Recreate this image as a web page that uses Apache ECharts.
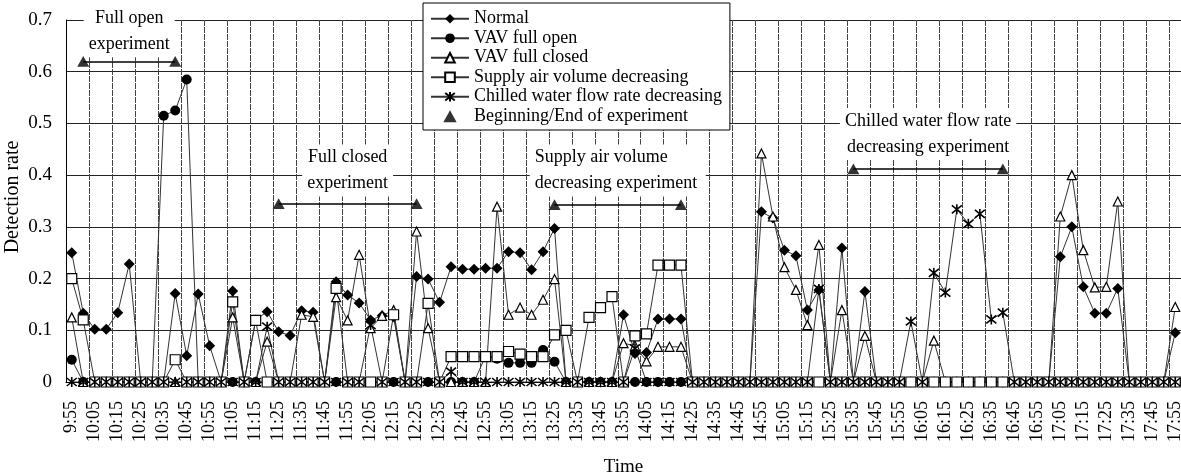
<!DOCTYPE html>
<html>
<head>
<meta charset="utf-8">
<script src="https://cdn.jsdelivr.net/npm/echarts@6/dist/echarts.min.js"></script>
<style>
html,body{margin:0;padding:0;background:#fff;}
#chart{width:1181px;height:475px;}
</style>
</head>
<body>
<div id="chart"></div>
<script>
// ---- data ----
const times = [
 '9:55','10:00','10:05','10:10','10:15','10:20','10:25','10:30','10:35','10:40',
 '10:45','10:50','10:55','11:00','11:05','11:10','11:15','11:20','11:25','11:30',
 '11:35','11:40','11:45','11:50','11:55','12:00','12:05','12:10','12:15','12:20',
 '12:25','12:30','12:35','12:40','12:45','12:50','12:55','13:00','13:05','13:10',
 '13:15','13:20','13:25','13:30','13:35','13:40','13:45','13:50','13:55','14:00',
 '14:05','14:10','14:15','14:20','14:25','14:30','14:35','14:40','14:45','14:50',
 '14:55','15:00','15:05','15:10','15:15','15:20','15:25','15:30','15:35','15:40',
 '15:45','15:50','15:55','16:00','16:05','16:10','16:15','16:20','16:25','16:30',
 '16:35','16:40','16:45','16:50','16:55','17:00','17:05','17:10','17:15','17:20',
 '17:25','17:30','17:35','17:40','17:45','17:50','17:55'
];
const normal = [
 0.25,0.133,0.102,0.102,0.134,0.228,0,0,0,0.171,
 0.051,0.17,0.07,0,0.176,0,0.12,0.136,0.097,0.09,
 0.138,0.135,0,0.194,0.168,0.153,0.12,0.128,0.126,0,
 0.204,0.199,0.154,0.223,0.218,0.218,0.22,0.22,0.252,0.25,
 0.217,0.252,0.297,0,0,0,0,0,0.13,0.055,
 0.057,0.122,0.122,0.122,0,0,0,0,0,0,
 0.329,0.317,0.255,0.244,0.139,0.178,0,0.259,0,0.175,
 0,0,0,0,0,0,0,0,0,0,
 0,0,0,0,0,0,0.242,0.30,0.184,0.133,
 0.133,0.181,0,0,0,0,0.095
];
const vavOpen = [
 0.043,0,0,0,0,0,0,0,0.515,0.525,
 0.585,0,0,0,0,0,0,0,0,0,
 0,0,0,0,0,0,0,0,0,0,
 0,0,0,0,0,0,0.05,0.045,0.037,0.037,
 0.037,0.062,0.039,0,0,0,0,0,0,0,
 0,0,0,0,0,0,0,0,0,0,
 0,0,0,0,0,0,0,0,0,0,
 0,0,0,0,0,0,0,0,0,0,
 0,0,0,0,0,0,0,0,0,0,
 0,0,0,0,0,0,0
];
const vavClosed = [
 0.125,0,0,0,0,0,0,0,0,0,
 0,0,0,0,0.125,0,0,0.078,0,0,
 0.13,0.126,0,0.164,0.119,0.246,0.104,0.128,0.139,0,
 0.291,0.104,0,0,0,0,0,0.339,0.13,0.144,
 0.13,0.159,0.199,0,0,0,0,0,0.075,0.07,
 0.04,0.068,0.068,0.068,0,0,0,0,0,0,
 0.442,0.32,0.222,0.178,0.11,0.265,0,0.139,0,0.089,
 0,0,0,0,0,0.08,0,0,0,0,
 0,0,0,0,0,0,0.32,0.40,0.255,0.183,
 0.184,0.349,0,0,0,0,0.145
];
const supplyAir = [
 0.2,0.12,0,0,0,0,0,0,0,0.043,
 0,0,0,0,0.155,0,0.119,0,0,0,
 0,0,0,0.181,0,0,0,0,0.13,0,
 0,0.152,0,0.049,0.049,0.049,0.049,0.049,0.059,0.054,
 0.049,0.049,0.091,0.1,0,0.125,0.144,0.165,0,0.089,
 0.093,0.226,0.226,0.226,0,0,0,0,0,0,
 0,0,0,0,0,0,0,0,0,0,
 0,0,0,0,0,0,0,0,0,0,
 0,0,0,0,0,0,0,0,0,0,
 0,0,0,0,0,0,0
];
const chilledWater = [
 0,0,0,0,0,0,0,0,0,0,
 0,0,0,0,0,0,0,0.107,0,0,
 0,0,0,0,0,0,0.11,0,0,0,
 0,0,0,0.02,0,0,0,0,0,0,
 0,0,0,0,0,0,0,0,0,0.065,
 0,0,0,0,0,0,0,0,0,0,
 0,0,0,0,0,0.18,0,0,0,0,
 0,0,0,0.117,0,0.211,0.173,0.334,0.306,0.325,
 0.121,0.134,0,0,0,0,0,0,0,0,
 0,0,0,0,0,0,0
];
// experiments: begin / end time and level of the marker
const expBegin = ['10:00','11:25','13:25','15:35'];
const expEnd   = ['10:40','12:25','14:20','16:40'];
const expLevel = [0.62, 0.345, 0.343, 0.412];
const expNames = ['Full open\nexperiment','Full closed\nexperiment',
                  'Supply air volume\ndecreasing experiment',
                  'Chilled water flow rate\ndecreasing experiment'];
const yTicks = [0,0.1,0.2,0.3,0.4,0.5,0.6,0.7];

// ---- chart ----
const FONT = 'Liberation Serif';
const chart = echarts.init(document.getElementById('chart'), null, {renderer:'canvas'});
const lineCol = '#333';
const ASTER = 'path://M1,1L9,9M9,1L1,9M5,0L5,10';
const TRI = 'path://M5,0L10,9L0,9Z';

function lineSeries(name, data, symbol, size, hollow){
  return {
    name, type:'line', data, symbol, symbolSize:size, showAllSymbol:true,
    lineStyle:{color:lineCol, width:1},
    itemStyle: hollow ? {color:'#fff', borderColor:'#000', borderWidth:1.2}
                      : {color:'#000', borderColor:'#000', borderWidth: symbol===ASTER?1.6:0},
    emphasis:{disabled:true}, animation:false
  };
}

const markPts = [];
expBegin.forEach((b,i)=>{ markPts.push([b, expLevel[i]]); markPts.push([expEnd[i], expLevel[i]]); });

const labelDist = [4, 7, 8, 9];
const markLines = expBegin.map((b,i)=>{
  const isSupply = i===2;
  const lines = expNames[i].split('\n');
  return [
    {coord:[b, expLevel[i]],
     label:{
       show:true, position:'insideMiddleTop', distance:labelDist[i],
       formatter: isSupply ? lines.map(l=>'{l|'+l+'}').join('\n') : expNames[i],
       rich: isSupply ? {l:{width:166, align:'left', fontFamily:FONT, fontSize:18, lineHeight:26, color:'#000'}} : undefined,
       fontFamily:FONT, fontSize:18, lineHeight:26, color:'#000',
       backgroundColor:'#fff', padding:[0,5]
     }},
    {coord:[expEnd[i], expLevel[i]]}
  ];
});

const option = {
  backgroundColor:'#fff',
  animation:false,
  textStyle:{fontFamily:FONT},
  grid:{left:66, right:0, top:20, bottom:93, containLabel:false, outerBoundsMode:'none'},
  legend:{
    orient:'vertical', left:423, top:3,
    backgroundColor:'#fff', borderColor:'#000', borderWidth:1,
    padding:[6,8,4,7], itemGap:0, itemWidth:38, itemHeight:12,
    symbolKeepAspect:true,
    textStyle:{fontFamily:FONT, fontSize:18, color:'#000', lineHeight:19.5},
    data:['Normal','VAV full open','VAV full closed','Supply air volume decreasing',
          'Chilled water flow rate decreasing','Beginning/End of experiment'],
    z:20
  },
  xAxis:{
    type:'category', data:times, boundaryGap:true,
    name:'Time', nameLocation:'middle', nameGap:76, nameMoveOverlap:false,
    nameTextStyle:{fontFamily:FONT, fontSize:19, color:'#000'},
    axisLine:{show:true, lineStyle:{color:'#000', width:1}},
    axisTick:{show:false},
    axisLabel:{interval:1, rotate:90, margin:19, fontFamily:FONT, fontSize:18, color:'#000'},
    splitLine:{show:true, interval:1, lineStyle:{color:'#444', width:1, type:[6,1]}}
  },
  yAxis:{
    type:'value', min:0, max:0.7, interval:0.1,
    name:'Detection rate', nameLocation:'middle', nameGap:43, nameMoveOverlap:false,
    nameTextStyle:{fontFamily:FONT, fontSize:20, color:'#000', padding:[0,0,0,8]},
    axisLine:{show:true, lineStyle:{color:'#000', width:1}},
    axisTick:{show:false},
    axisLabel:{margin:14, fontFamily:FONT, fontSize:19, color:'#000',
               formatter:v=>{ const t=yTicks.find(x=>Math.abs(x-v)<1e-6); return String(t!==undefined?t:v); }},
    splitLine:{show:true, lineStyle:{color:'#222', width:1}}
  },
  series:[
    lineSeries('Normal', normal, 'diamond', 11, false),
    lineSeries('VAV full open', vavOpen, 'circle', 10, false),
    lineSeries('VAV full closed', vavClosed, 'triangle', 9, true),
    lineSeries('Supply air volume decreasing', supplyAir, 'rect', 10, true),
    lineSeries('Chilled water flow rate decreasing', chilledWater, ASTER, 10, false),
    {
      name:'Beginning/End of experiment', type:'scatter', data:markPts,
      symbol:TRI, symbolSize:12, symbolKeepAspect:true, itemStyle:{color:'#000'}, z:5,
      emphasis:{disabled:true},
      markLine:{
        silent:true, symbol:['none','none'], animation:false,
        lineStyle:{color:'#000', width:1.5, type:'solid'},
        emphasis:{disabled:true},
        data:markLines
      }
    }
  ]
};
chart.setOption(option);
</script>
</body>
</html>
